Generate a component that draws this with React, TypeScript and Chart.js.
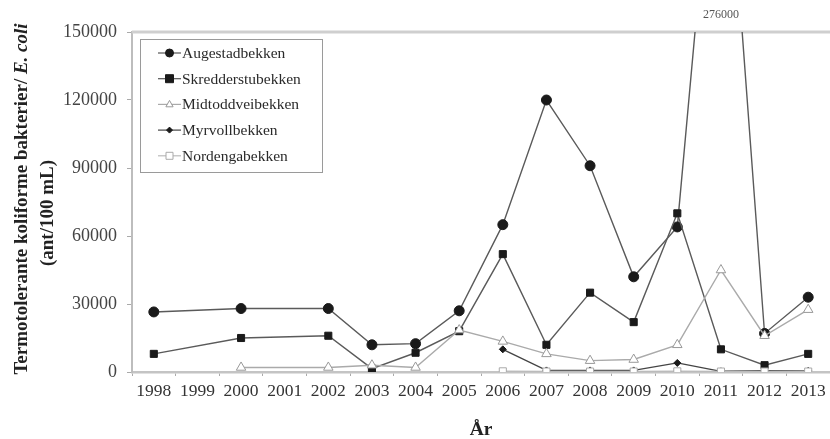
import React, { useEffect, useRef } from 'react';
import { Chart, registerables } from 'chart.js';

Chart.register(...registerables);

const years = ['1998','1999','2000','2001','2002','2003','2004','2005','2006','2007','2008','2009','2010','2011','2012','2013'];
const augestad = [26500, null, 28000, null, 28000, 12000, 12500, 27000, 65000, 120000, 91000, 42000, 64000, 276000, 17000, 33000];
const skredder = [8000, null, 15000, null, 16000, 1500, 8500, 18000, 52000, 12000, 35000, 22000, 70000, 10000, 3000, 8000];
const midtodd = [null, null, 2000, null, 2000, 3000, 2000, 18500, 13500, 8000, 5000, 5500, 12000, 45000, 16000, 27500];
const myrvoll = [null, null, null, null, null, null, null, null, 10000, 700, 700, 700, 4000, 300, 600, 500];
const nordenga = [null, null, null, null, null, null, null, null, 300, 200, 200, 200, 300, 200, 200, 200];
const seriesNames = ['Augestadbekken', 'Skredderstubekken', 'Midtoddveibekken', 'Myrvollbekken', 'Nordengabekken'];
const yTicks = [0, 30000, 60000, 90000, 120000, 150000];
const offLabel = '276000';

const SERIF = '"Liberation Serif", "Times New Roman", serif';

function drawMarker(ctx: CanvasRenderingContext2D, style: string, x: number, y: number, r: number, fill: string, stroke: string) {
  ctx.save();
  ctx.beginPath();
  if (style === 'circle') {
    ctx.arc(x, y, r, 0, Math.PI * 2);
  } else if (style === 'rect') {
    ctx.rect(x - r, y - r, 2 * r, 2 * r);
  } else if (style === 'triangle') {
    ctx.moveTo(x, y - r);
    ctx.lineTo(x + r * 0.9, y + r * 0.6);
    ctx.lineTo(x - r * 0.9, y + r * 0.6);
    ctx.closePath();
  } else if (style === 'rectRot') {
    ctx.moveTo(x, y - r);
    ctx.lineTo(x + r, y);
    ctx.lineTo(x, y + r);
    ctx.lineTo(x - r, y);
    ctx.closePath();
  }
  ctx.fillStyle = fill;
  ctx.fill();
  ctx.strokeStyle = stroke;
  ctx.lineWidth = 1;
  ctx.stroke();
  ctx.restore();
}

const legendStyles = [
  { style: 'circle', r: 4, fill: '#1a1a1a', stroke: '#1a1a1a', line: '#555' },
  { style: 'rect', r: 4, fill: '#1a1a1a', stroke: '#1a1a1a', line: '#555' },
  { style: 'triangle', r: 4, fill: '#fff', stroke: '#999', line: '#aaa' },
  { style: 'rectRot', r: 3, fill: '#1a1a1a', stroke: '#1a1a1a', line: '#444' },
  { style: 'rect', r: 3.5, fill: '#fff', stroke: '#aaa', line: '#bbb' },
];

const decorPlugin = {
  id: 'decor',
  beforeDatasetsDraw(chart: any) {
    const { ctx, chartArea } = chart;
    ctx.save();
    ctx.strokeStyle = '#cfcfcf';
    ctx.lineWidth = 3;
    ctx.beginPath();
    ctx.moveTo(chartArea.left, chartArea.top);
    ctx.lineTo(chartArea.right, chartArea.top);
    ctx.stroke();
    ctx.restore();
  },
  afterDraw(chart: any) {
    const { ctx, chartArea, scales } = chart;
    ctx.save();
    // off-scale label
    const x2011 = scales.x.getPixelForValue(years.indexOf('2011'));
    ctx.font = `12px ${SERIF}`;
    ctx.fillStyle = '#555';
    ctx.textAlign = 'center';
    ctx.textBaseline = 'middle';
    ctx.fillText(offLabel, x2011, 15);

    // x title
    ctx.font = `bold 19.5px ${SERIF}`;
    ctx.fillStyle = '#222';
    ctx.fillText('År', (chartArea.left + chartArea.right) / 2, 430);

    // y title
    ctx.save();
    ctx.translate(22, 199);
    ctx.rotate(-Math.PI / 2);
    const p1 = 'Termotolerante koliforme bakterier/ ';
    const p2 = 'E. coli';
    ctx.font = `bold 19px ${SERIF}`;
    const w1 = ctx.measureText(p1).width;
    ctx.font = `italic bold 19px ${SERIF}`;
    const w2 = ctx.measureText(p2).width;
    const start = -(w1 + w2) / 2;
    ctx.textAlign = 'left';
    ctx.font = `bold 19px ${SERIF}`;
    ctx.fillText(p1, start, 0);
    ctx.font = `italic bold 19px ${SERIF}`;
    ctx.fillText(p2, start + w1, 0);
    ctx.restore();
    ctx.save();
    ctx.translate(48, 213);
    ctx.rotate(-Math.PI / 2);
    ctx.font = `bold 19px ${SERIF}`;
    ctx.textAlign = 'center';
    ctx.fillText('(ant/100 mL)', 0, 0);
    ctx.restore();

    // legend
    const bx = 140, by = 39, bw = 182, bh = 133;
    ctx.fillStyle = '#fff';
    ctx.fillRect(bx, by, bw, bh);
    ctx.strokeStyle = '#9a9a9a';
    ctx.lineWidth = 1;
    ctx.strokeRect(bx + 0.5, by + 0.5, bw, bh);
    ctx.font = `15.5px ${SERIF}`;
    ctx.textAlign = 'left';
    ctx.textBaseline = 'middle';
    seriesNames.forEach((name, i) => {
      const y = 53 + i * 25.7;
      const s = legendStyles[i];
      ctx.strokeStyle = s.line;
      ctx.lineWidth = 1.2;
      ctx.beginPath();
      ctx.moveTo(158, y);
      ctx.lineTo(181, y);
      ctx.stroke();
      drawMarker(ctx, s.style, 169.5, y, s.r, s.fill, s.stroke);
      ctx.fillStyle = '#2a2a2a';
      ctx.fillText(name, 182, y + 1);
    });
    ctx.restore();
  },
};

export default function App() {
  const ref = useRef<HTMLCanvasElement>(null);
  useEffect(() => {
    if (!ref.current) return;
    const mk = (label: string, data: (number | null)[], style: string, r: number, fill: string, stroke: string, line: string) => ({
      label,
      data,
      borderColor: line,
      borderWidth: 1.4,
      pointStyle: style,
      pointRadius: r,
      pointBackgroundColor: fill,
      pointBorderColor: stroke,
      pointBorderWidth: 1,
      spanGaps: true,
      tension: 0,
    });
    const chart = new Chart(ref.current, {
      type: 'line',
      data: {
        labels: years,
        datasets: [
          mk(seriesNames[4], nordenga, 'rect', 5, '#fff', '#aaa', '#bbb'),
          mk(seriesNames[2], midtodd, 'triangle', 5.5, '#fff', '#999', '#aaa'),
          mk(seriesNames[3], myrvoll, 'rectRot', 3.5, '#1a1a1a', '#1a1a1a', '#444'),
          mk(seriesNames[1], skredder, 'rect', 5, '#1a1a1a', '#1a1a1a', '#5a5a5a'),
          mk(seriesNames[0], augestad, 'circle', 5, '#1a1a1a', '#1a1a1a', '#5a5a5a'),
        ],
      },
      options: {
        responsive: false,
        animation: false,
        layout: { autoPadding: false, padding: { top: 32, left: 0, right: 0, bottom: 0 } },
        plugins: { legend: { display: false }, tooltip: { enabled: false } },
        scales: {
          x: {
            type: 'category',
            offset: true,
            grid: { display: true, drawOnChartArea: false, offset: true, tickLength: 4, color: '#aaa' },
            border: { color: '#c4c4c4', width: 2.5 },
            ticks: { font: { family: SERIF, size: 17.5 }, color: '#333', padding: 5, maxRotation: 0, minRotation: 0, autoSkip: false },
            afterFit: (s: any) => { s.height = 67; s.paddingLeft = 0; s.paddingRight = 0; },
          },
          y: {
            min: 0,
            max: 150000,
            afterBuildTicks: (s: any) => { s.ticks = yTicks.map((v) => ({ value: v })); },
            grid: { display: true, drawOnChartArea: false, tickLength: 5, color: '#aaa' },
            border: { color: '#bdbdbd', width: 2 },
            ticks: { font: { family: SERIF, size: 18 }, color: '#444', padding: 10, callback: (v: any) => String(v) },
            afterFit: (s: any) => { s.width = 132; s.paddingTop = 0; s.paddingBottom = 0; },
          },
        },
      },
      plugins: [decorPlugin],
    });
    return () => chart.destroy();
  }, []);
  return (
    <div style={{ position: 'fixed', left: 0, top: 0, width: 830, height: 439, background: '#fff' }}>
      <canvas ref={ref} width={830} height={439} style={{ width: 830, height: 439, display: 'block' }} />
    </div>
  );
}
